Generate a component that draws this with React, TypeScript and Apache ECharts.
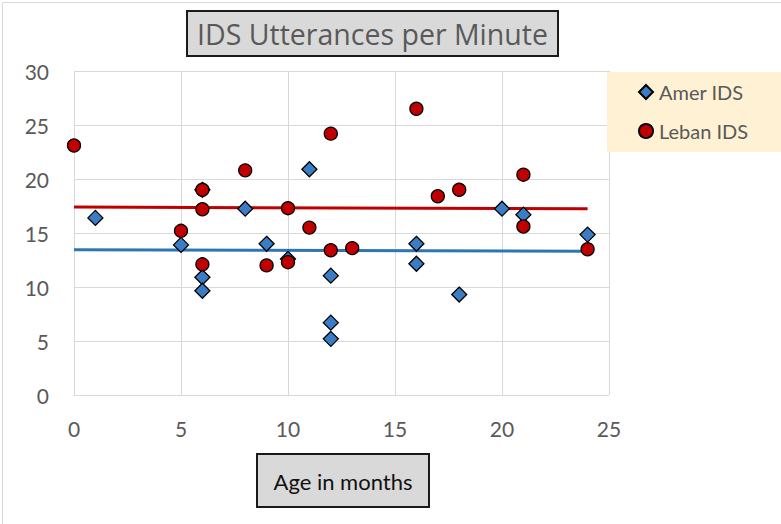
import React, { useEffect, useRef } from "react";
import * as echarts from "echarts";

const amerAge = [1, 5, 6, 6, 6, 8, 9, 10, 11, 12, 12, 12, 16, 16, 18, 20, 21, 24];
const amerRate = [16.4, 13.9, 19.0, 10.9, 9.65, 17.25, 14.0, 12.6, 20.9, 11.05, 6.7, 5.2, 14.0, 12.15, 9.3, 17.25, 16.7, 14.85];
const lebanAge = [0, 5, 6, 6, 6, 8, 9, 10, 10, 11, 12, 12, 13, 16, 17, 18, 21, 21, 24];
const lebanRate = [23.1, 15.2, 19.0, 17.2, 12.1, 20.8, 12.0, 17.3, 12.3, 15.5, 24.2, 13.4, 13.6, 26.5, 18.4, 19.0, 20.4, 15.6, 13.5];
const trendAge = [0, 24];
const amerTrend = [13.45, 13.3];
const lebanTrend = [17.4, 17.25];
const xTicks = [0, 5, 10, 15, 20, 25];
const yTicks = [0, 5, 10, 15, 20, 25, 30];

const FONT = "Lato, 'Open Sans', sans-serif";
const TITLE_FONT = "'Open Sans', Lato, sans-serif";
const BLUE = "#3a7dc4";
const BLUE_LINE = "#2e75b6";
const RED = "#c00000";

export default function App() {
  const ref = useRef<HTMLDivElement>(null);
  useEffect(() => {
    if (!ref.current) return;
    const chart = echarts.init(ref.current, null, { renderer: "svg" });
    const pairs = (xs: number[], ys: number[]) => xs.map((x, i) => [x, ys[i]]);
    chart.setOption({
      animation: false,
      backgroundColor: "#ffffff",
      textStyle: { fontFamily: FONT },
      grid: { left: 74, top: 71, right: 172, bottom: 129 },
      xAxis: {
        type: "value",
        min: xTicks[0],
        max: xTicks[xTicks.length - 1],
        interval: 5,
        axisLine: { show: false },
        axisTick: { show: false },
        splitLine: { show: true, lineStyle: { color: "#d9d9d9", width: 1 } },
        axisLabel: { color: "#595959", fontSize: 21, margin: 23, fontFamily: FONT },
      },
      yAxis: {
        type: "value",
        min: yTicks[0],
        max: yTicks[yTicks.length - 1],
        interval: 5,
        axisLine: { show: false },
        axisTick: { show: false },
        splitLine: { show: true, lineStyle: { color: "#d9d9d9", width: 1 } },
        axisLabel: { color: "#595959", fontSize: 21, margin: 25, fontFamily: FONT },
      },
      legend: {
        orient: "vertical",
        left: 607,
        top: 72,
        padding: [10, 33, 11, 31],
        itemGap: 19,
        itemWidth: 14,
        itemHeight: 14,
        backgroundColor: "#fff2d4",
        textStyle: { color: "#595959", fontSize: 20, lineHeight: 20, fontFamily: FONT, padding: [0, 0, 0, 1] },
        data: ["Amer IDS", "Leban IDS"],
      },
      series: [
        {
          name: "Amer IDS",
          type: "scatter",
          symbol: "diamond",
          symbolSize: 15,
          itemStyle: { color: BLUE, borderColor: "#000000", borderWidth: 1.3, opacity: 1 },
          data: pairs(amerAge, amerRate),
          z: 3,
        },
        {
          name: "Leban IDS",
          type: "scatter",
          symbol: "circle",
          symbolSize: 13,
          itemStyle: { color: RED, borderColor: "#000000", borderWidth: 1.3, opacity: 1 },
          data: pairs(lebanAge, lebanRate),
          z: 4,
        },
        {
          name: "Amer trend",
          type: "line",
          symbol: "none",
          lineStyle: { color: BLUE_LINE, width: 3 },
          data: pairs(trendAge, amerTrend),
          z: 2,
          silent: true,
        },
        {
          name: "Leban trend",
          type: "line",
          symbol: "none",
          lineStyle: { color: RED, width: 3 },
          data: pairs(trendAge, lebanTrend),
          z: 2,
          silent: true,
        },
      ],
      graphic: [
        {
          type: "rect",
          left: 0,
          top: 0,
          shape: { x: 0.5, y: 0.5, width: 780, height: 523 },
          style: { fill: "none", stroke: "#d9d9d9", lineWidth: 1 },
          silent: true,
        },
        {
          type: "group",
          left: 186,
          top: 10,
          children: [
            {
              type: "rect",
              shape: { x: 0, y: 0, width: 371, height: 45 },
              style: { fill: "#d9d9d9", stroke: "#1a1a1a", lineWidth: 2 },
            },
            {
              type: "text",
              x: 185.5,
              y: 23,
              style: {
                text: "IDS Utterances per Minute",
                fill: "#595959",
                fontSize: 28.5,
                fontFamily: TITLE_FONT,
                align: "center",
                verticalAlign: "middle",
              },
            },
          ],
        },
        {
          type: "group",
          left: 256,
          top: 453,
          children: [
            {
              type: "rect",
              shape: { x: 0, y: 0, width: 172, height: 53 },
              style: { fill: "#d9d9d9", stroke: "#1a1a1a", lineWidth: 2 },
            },
            {
              type: "text",
              x: 86,
              y: 27,
              style: {
                text: "Age in months",
                fill: "#111111",
                fontSize: 22,
                fontFamily: FONT,
                align: "center",
                verticalAlign: "middle",
              },
            },
          ],
        },
      ],
    });
    return () => chart.dispose();
  }, []);
  return (
    <div style={{ position: "absolute", left: 0, top: 0, width: 781, height: 524 }}>
      <div ref={ref} style={{ width: 781, height: 524 }} />
    </div>
  );
}
